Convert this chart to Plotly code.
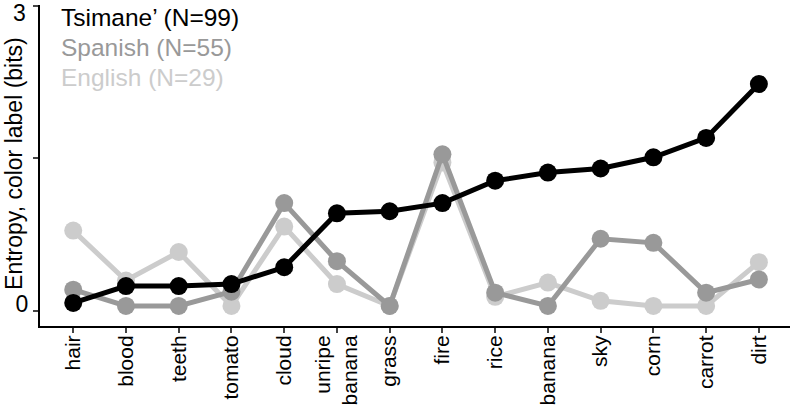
import plotly.graph_objects as go

categories = ["hair", "blood", "teeth", "tomato", "cloud", "unripe<br>banana", "grass",
              "fire", "rice", "banana", "sky", "corn", "carrot", "dirt"]
tsimane = [0.08, 0.245, 0.245, 0.265, 0.43, 0.96, 0.98, 1.06, 1.28, 1.36, 1.40, 1.51, 1.70, 2.23]
spanish = [0.21, 0.05, 0.05, 0.19, 1.06, 0.49, 0.05, 1.54, 0.18, 0.05, 0.71, 0.67, 0.18, 0.31]
english = [0.79, 0.30, 0.58, 0.05, 0.83, 0.265, 0.05, 1.46, 0.14, 0.28, 0.10, 0.05, 0.05, 0.48]
series_names = ["Tsimane’ (N=99)", "Spanish (N=55)", "English (N=29)"]
colors = ["#000000", "#999999", "#cccccc"]
y_title = "Entropy, color label (bits)"
y_ticks = [0, 1.5, 3]
y_ticklabels = ["0", "", "3"]

FONT = "Liberation Sans, Arial, Helvetica"
x = list(range(len(categories)))
fig = go.Figure()
for vals, col in [(english, colors[2]), (spanish, colors[1]), (tsimane, colors[0])]:
    fig.add_trace(go.Scatter(x=x, y=vals, mode="lines+markers",
                             line=dict(color=col, width=5),
                             marker=dict(color=col, size=18),
                             showlegend=False, hoverinfo="skip"))

for i, (name, col) in enumerate(zip(series_names, colors)):
    fig.add_annotation(text=name, xref="paper", yref="paper", x=0.025, y=0.96 - i * 0.0935,
                       xanchor="left", yanchor="middle", showarrow=False,
                       font=dict(color=col, size=24.5, family=FONT))

fig.add_annotation(text=y_title, xref="paper", yref="paper", x=-0.0347, y=0.508,
                   xanchor="center", yanchor="middle", showarrow=False, textangle=-90,
                   font=dict(color="black", size=23, family=FONT))

# top tick label (drawn as text so it is not dropped at the figure edge)
fig.add_annotation(text=y_ticklabels[2], xref="paper", yref="y", x=-0.016, y=y_ticks[2],
                   xanchor="right", yanchor="middle", showarrow=False, yshift=-7,
                   font=dict(color="black", size=23, family=FONT))

fig.update_layout(
    width=796, height=409,
    margin=dict(l=40, r=6, t=5, b=83),
    plot_bgcolor="white", paper_bgcolor="white",
    font=dict(family=FONT, color="black", size=21),
    xaxis=dict(range=[-0.63, 13.59], tickvals=x, ticktext=categories, tickangle=-90,
               showline=True, linecolor="black", linewidth=2, ticks="outside",
               ticklen=5, tickwidth=2, showgrid=False, zeroline=False, automargin=False,
               ticklabelstandoff=-6, tickfont=dict(size=21)),
    yaxis=dict(range=[-0.147, 3.006], tickvals=y_ticks, ticktext=[y_ticklabels[0], "", ""],
               showline=True, linecolor="black", linewidth=2, ticks="outside",
               ticklen=5, tickwidth=2, showgrid=False, zeroline=False, automargin=False,
               ticklabelshift=-7, tickfont=dict(size=23)),
)
fig.write_html("out.html", config={"displayModeBar": False},
               post_script="document.body.style.margin='0';document.body.style.overflow='hidden';")
